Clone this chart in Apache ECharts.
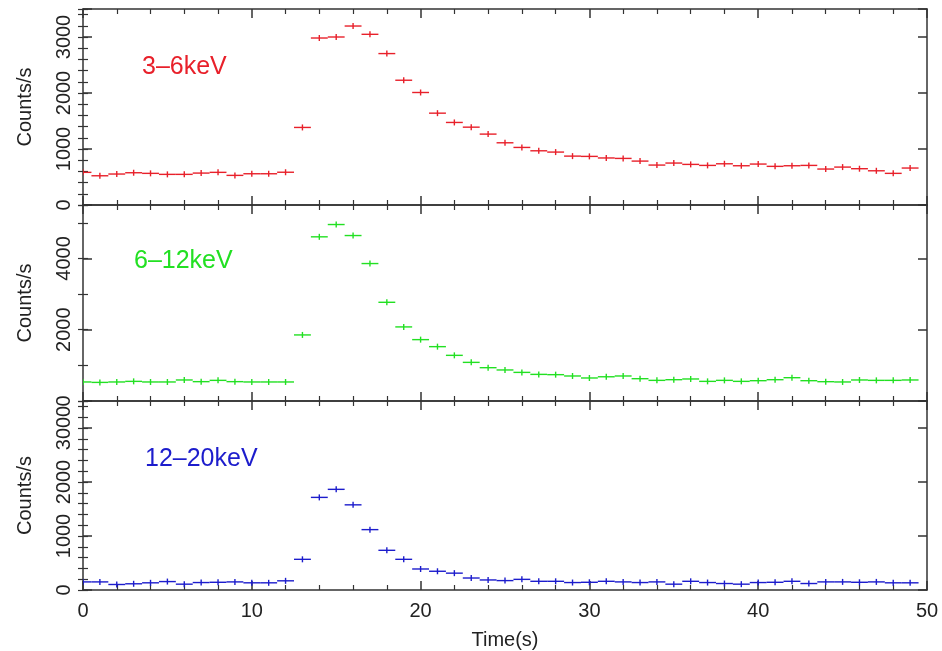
<!DOCTYPE html>
<html>
<head>
<meta charset="utf-8">
<script src="https://cdn.jsdelivr.net/npm/echarts@6/dist/echarts.min.js"></script>
<style>html,body{margin:0;padding:0;background:#fff}#c{width:942px;height:651px}</style>
</head>
<body>
<div id="c"></div>
<script>
// Bin centres (s)
const time = [0,1,2,3,4,5,6,7,8,9,10,11,12,13,14,15,16,17,18,19,20,21,22,23,24,25,26,27,28,29,30,31,32,33,34,35,36,37,38,39,40,41,42,43,44,45,46,47,48,49];
// 3-6 keV count rate
const band1 = [583,522,553,576,565,547,547,570,583,529,558,558,585,1385,2982,3000,3196,3048,2704,2228,2009,1640,1474,1390,1266,1111,1028,968,945,873,868,840,832,784,713,749,725,707,736,701,731,690,701,707,642,677,648,611,565,660];
// 6-12 keV count rate
const band2 = [534,522,534,551,534,534,590,543,579,543,534,534,534,1854,4607,4952,4643,3857,2770,2079,1722,1525,1281,1084,935,871,803,747,739,702,646,680,702,626,579,598,618,551,579,551,570,598,654,570,542,534,590,579,579,590];
// 12-20 keV count rate
const band3 = [150,150,102,115,133,156,108,138,143,150,133,133,170,568,1715,1864,1577,1118,735,568,389,347,312,222,186,174,197,161,161,138,143,161,150,138,150,108,161,138,120,108,138,143,161,120,150,150,143,150,133,133];

const bandNames = ['3\u20136keV','6\u201312keV','12\u201320keV'];
const bandColors = ['#e8202a','#22e022','#1c1ccc'];
const yMax = [3500, 5500, 3500];
const yMajor = [1000, 2000, 1000];
const yMinor = [200, 1000, 200];
const bands = [band1, band2, band3];

const FONT = 'Liberation Sans, Arial, Helvetica, sans-serif';
const AX = '#333';
const gridTops = [9, 205, 401];
const gridH = 196;

const grids = gridTops.map(t => ({left: 83, right: 15, top: t, height: gridH, containLabel: false}));

const xAxes = [];
const yAxes = [];
const series = [];

for (let g = 0; g < 3; g++) {
  ['bottom','top'].forEach(pos => {
    xAxes.push({
      type: 'value', gridIndex: g, position: pos, min: 0, max: 50, interval: 10,
      axisLine: {show: true, onZero: false, lineStyle: {color: AX, width: 1.5}},
      axisTick: {show: true, inside: true, length: 9, lineStyle: {color: AX, width: 1.5}},
      minorTick: {show: true, splitNumber: 5, length: 5, lineStyle: {color: AX, width: 1.2}},
      splitLine: {show: false},
      axisLabel: {show: g === 2 && pos === 'bottom', color: '#222', fontSize: 20, fontFamily: FONT, margin: 11},
      name: (g === 2 && pos === 'bottom') ? 'Time(s)' : '',
      nameLocation: 'middle', nameGap: 40,
      nameTextStyle: {color: '#222', fontSize: 20, fontFamily: FONT}
    });
  });
  ['left','right'].forEach(pos => {
    // major ticks
    yAxes.push({
      type: 'value', gridIndex: g, position: pos, min: 0, max: yMax[g], interval: yMajor[g],
      axisLine: {show: true, onZero: false, lineStyle: {color: AX, width: 1.5}},
      axisTick: {show: true, inside: true, length: 9, lineStyle: {color: AX, width: 1.5}},
      splitLine: {show: false},
      axisLabel: {
        show: pos === 'left', rotate: 90, color: '#222', fontSize: 20, fontFamily: FONT, margin: 9,
        formatter: v => (v % yMajor[g] === 0 ? String(v) : '')
      },
      name: pos === 'left' ? 'Counts/s' : '',
      nameLocation: 'middle', nameRotate: 90, nameGap: 48,
      nameTextStyle: {color: '#222', fontSize: 20, fontFamily: FONT}
    });
    // minor ticks
    yAxes.push({
      type: 'value', gridIndex: g, position: pos, min: 0, max: yMax[g], interval: yMinor[g],
      axisLine: {show: false},
      axisTick: {show: true, inside: true, length: 5, lineStyle: {color: AX, width: 1.2}},
      splitLine: {show: false},
      axisLabel: {show: false}
    });
  });

  const col = bandColors[g];
  series.push({
    type: 'custom', xAxisIndex: 2 * g, yAxisIndex: 4 * g, clip: true,
    data: time.map((t, i) => [t, bands[g][i]]),
    renderItem: function (params, api) {
      const x = api.value(0), y = api.value(1);
      const p0 = api.coord([x - 0.5, y]);
      const p1 = api.coord([x + 0.5, y]);
      const c = api.coord([x, y]);
      const st = {stroke: col, lineWidth: 1.4};
      return {type: 'group', children: [
        {type: 'line', shape: {x1: p0[0], y1: p0[1], x2: p1[0], y2: p1[1]}, style: st},
        {type: 'line', shape: {x1: c[0], y1: c[1] - 3, x2: c[0], y2: c[1] + 3}, style: st}
      ]};
    }
  });
}

const labelPos = [[142, 66], [134, 260], [145, 458]];
const graphics = bandNames.map((n, i) => ({
  type: 'text', left: labelPos[i][0], top: labelPos[i][1] - 11,
  style: {text: n, fill: bandColors[i], font: '25px ' + FONT}
}));

const chart = echarts.init(document.getElementById('c'), null, {renderer: 'canvas'});
chart.setOption({
  animation: false,
  backgroundColor: '#fff',
  grid: grids,
  xAxis: xAxes,
  yAxis: yAxes,
  series: series,
  graphic: graphics
});
</script>
</body>
</html>
